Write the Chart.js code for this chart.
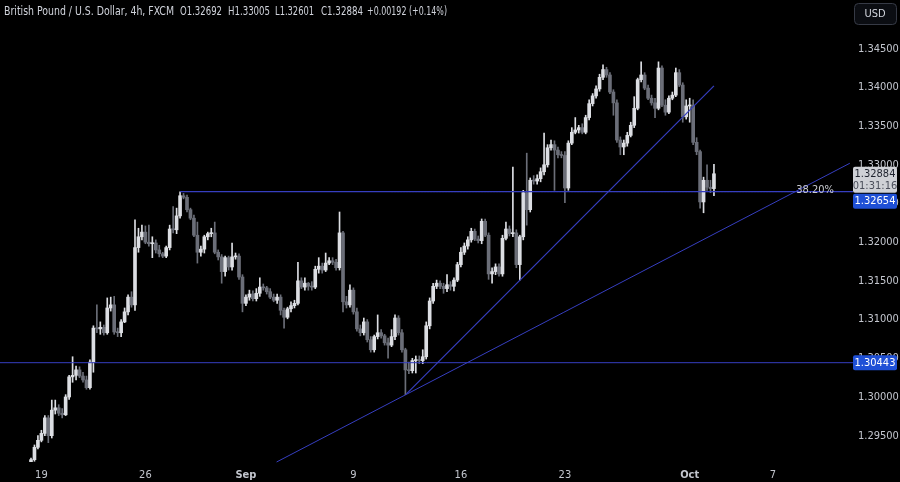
<!DOCTYPE html>
<html>
<head>
<meta charset="utf-8">
<script src="https://cdn.jsdelivr.net/npm/chart.js@4.4.1/dist/chart.umd.min.js"></script>
<style>
  html, body { margin: 0; padding: 0; background: #000; }
  #wrap { width: 900px; height: 482px; position: relative; }
</style>
</head>
<body>
<div id="wrap"><canvas id="gbpusd"></canvas></div>
<script>
// GBP/USD 4h candles, one entry per bar (bar 0 = Fri 16 Aug, last bar = 2 Oct)
const opens = [
  1.2915,1.2919,1.2935,1.2944,1.2953,1.2973,1.2950,1.2983,1.2986,1.2979,
  1.2977,1.3000,1.3026,1.3028,1.3035,1.3027,1.3022,1.3012,1.3045,1.3089,
  1.3088,1.3090,1.3083,1.3115,1.3119,1.3084,1.3083,1.3097,1.3110,1.3129,
  1.3119,1.3193,1.3207,1.3213,1.3200,1.3198,1.3199,1.3190,1.3185,1.3182,
  1.3193,1.3217,1.3216,1.3234,1.3260,1.3258,1.3242,1.3231,1.3209,1.3187,
  1.3191,1.3207,1.3211,1.3212,1.3187,1.3181,1.3162,1.3180,1.3168,1.3181,
  1.3182,1.3155,1.3121,1.3129,1.3133,1.3127,1.3134,1.3142,1.3141,1.3136,
  1.3129,1.3125,1.3129,1.3112,1.3103,1.3114,1.3118,1.3121,1.3150,1.3142,
  1.3147,1.3143,1.3142,1.3165,1.3169,1.3164,1.3173,1.3176,1.3174,1.3167,
  1.3212,1.3123,1.3119,1.3138,1.3110,1.3088,1.3083,1.3097,1.3074,1.3061,
  1.3078,1.3083,1.3079,1.3070,1.3067,1.3078,1.3102,1.3083,1.3061,1.3035,
  1.3034,1.3047,1.3048,1.3047,1.3052,1.3092,1.3124,1.3143,1.3147,1.3143,
  1.3140,1.3145,1.3143,1.3151,1.3171,1.3187,1.3195,1.3203,1.3214,1.3204,
  1.3202,1.3227,1.3209,1.3159,1.3162,1.3168,1.3159,1.3205,1.3217,1.3211,
  1.3212,1.3171,1.3207,1.3264,1.3242,1.3280,1.3279,1.3282,1.3291,1.3300,
  1.3322,1.3326,1.3319,1.3313,1.3312,1.3270,1.3328,1.3342,1.3345,1.3348,
  1.3342,1.3361,1.3379,1.3389,1.3398,1.3413,1.3423,1.3416,1.3394,1.3380,
  1.3332,1.3323,1.3328,1.3338,1.3351,1.3373,1.3410,1.3416,1.3399,1.3386,
  1.3380,1.3373,1.3425,1.3377,1.3368,1.3386,1.3390,1.3419,1.3403,1.3362,
  1.3376,1.3377,1.3329,1.3317,1.3252,1.3280,1.3271,1.32692
];
const highs = [
  1.2921,1.2938,1.2950,1.2957,1.2976,1.2976,1.2996,1.2996,1.2990,1.2985,
  1.3003,1.3028,1.3052,1.3040,1.3039,1.3032,1.3027,1.3048,1.3092,1.3119,
  1.3097,1.3093,1.3128,1.3129,1.3130,1.3089,1.3100,1.3115,1.3132,1.3136,
  1.3229,1.3218,1.3222,1.3221,1.3222,1.3207,1.3203,1.3196,1.3187,1.3195,
  1.3222,1.3246,1.3244,1.3265,1.3263,1.3261,1.3244,1.3235,1.3226,1.3195,
  1.3209,1.3213,1.3218,1.3226,1.3190,1.3184,1.3182,1.3182,1.3199,1.3186,
  1.3185,1.3158,1.3132,1.3138,1.3137,1.3140,1.3154,1.3146,1.3143,1.3140,
  1.3133,1.3133,1.3132,1.3115,1.3116,1.3123,1.3125,1.3174,1.3154,1.3154,
  1.3148,1.3149,1.3169,1.3180,1.3173,1.3186,1.3180,1.3180,1.3178,1.3239,
  1.3214,1.3130,1.3145,1.3141,1.3115,1.3093,1.3102,1.3100,1.3078,1.3080,
  1.3106,1.3087,1.3081,1.3076,1.3087,1.3106,1.3105,1.3087,1.3063,1.3045,
  1.3050,1.3053,1.3053,1.3061,1.3097,1.3128,1.3147,1.3151,1.3150,1.3147,
  1.3158,1.3149,1.3154,1.3174,1.3193,1.3199,1.3207,1.3218,1.3217,1.3208,
  1.3230,1.3230,1.3212,1.3167,1.3172,1.3172,1.3209,1.3226,1.3221,1.3297,
  1.3216,1.3209,1.3267,1.3315,1.3283,1.3286,1.3287,1.3296,1.3341,1.3326,
  1.3332,1.3331,1.3323,1.3317,1.3317,1.3331,1.3348,1.3361,1.3351,1.3353,
  1.3364,1.3384,1.3392,1.3402,1.3417,1.3429,1.3426,1.3419,1.3397,1.3384,
  1.3336,1.3332,1.3342,1.3355,1.3388,1.3412,1.3433,1.3419,1.3403,1.3390,
  1.3386,1.3433,1.3428,1.3384,1.3389,1.3394,1.3425,1.3423,1.3406,1.3384,
  1.3386,1.3384,1.3335,1.3319,1.3284,1.3300,1.3280,1.33005
];
const lows = [
  1.2913,1.2917,1.2933,1.2942,1.2950,1.2941,1.2947,1.2978,1.2976,1.2973,
  1.2976,1.2997,1.3019,1.3022,1.3025,1.3019,1.3010,1.3010,1.3032,1.3083,
  1.3081,1.3080,1.3081,1.3111,1.3081,1.3078,1.3078,1.3096,1.3106,1.3116,
  1.3112,1.3187,1.3203,1.3198,1.3195,1.3180,1.3186,1.3181,1.3180,1.3180,
  1.3190,1.3212,1.3211,1.3231,1.3256,1.3239,1.3229,1.3207,1.3173,1.3182,
  1.3186,1.3203,1.3207,1.3185,1.3177,1.3147,1.3156,1.3164,1.3164,1.3178,
  1.3152,1.3110,1.3118,1.3125,1.3124,1.3124,1.3130,1.3138,1.3133,1.3127,
  1.3123,1.3121,1.3106,1.3089,1.3101,1.3110,1.3115,1.3119,1.3140,1.3138,
  1.3138,1.3138,1.3140,1.3160,1.3160,1.3162,1.3171,1.3171,1.3164,1.3164,
  1.3110,1.3115,1.3116,1.3107,1.3085,1.3079,1.3080,1.3071,1.3058,1.3058,
  1.3075,1.3076,1.3067,1.3050,1.3065,1.3074,1.3080,1.3058,1.3003,1.3030,
  1.3031,1.3031,1.3043,1.3043,1.3049,1.3088,1.3121,1.3140,1.3140,1.3134,
  1.3136,1.3138,1.3137,1.3149,1.3168,1.3184,1.3191,1.3200,1.3202,1.3199,
  1.3198,1.3207,1.3152,1.3147,1.3158,1.3156,1.3156,1.3203,1.3208,1.3207,
  1.3167,1.3151,1.3203,1.3222,1.3239,1.3275,1.3275,1.3278,1.3287,1.3297,
  1.3319,1.3267,1.3309,1.3309,1.3251,1.3267,1.3326,1.3340,1.3341,1.3340,
  1.3340,1.3358,1.3376,1.3386,1.3395,1.3410,1.3413,1.3392,1.3364,1.3329,
  1.3313,1.3313,1.3324,1.3336,1.3348,1.3371,1.3407,1.3397,1.3384,1.3377,
  1.3361,1.3371,1.3375,1.3364,1.3366,1.3384,1.3388,1.3401,1.3355,1.3359,
  1.3355,1.3326,1.3313,1.3244,1.3238,1.3267,1.3264,1.32601
];
const closes = [
  1.2919,1.2935,1.2944,1.2953,1.2973,1.2950,1.2983,1.2986,1.2979,1.2977,
  1.3000,1.3026,1.3028,1.3035,1.3027,1.3022,1.3012,1.3045,1.3089,1.3088,
  1.3090,1.3083,1.3115,1.3119,1.3084,1.3083,1.3097,1.3110,1.3129,1.3119,
  1.3193,1.3207,1.3213,1.3200,1.3198,1.3199,1.3190,1.3185,1.3182,1.3193,
  1.3217,1.3216,1.3234,1.3260,1.3258,1.3242,1.3231,1.3209,1.3187,1.3191,
  1.3207,1.3211,1.3212,1.3187,1.3181,1.3162,1.3180,1.3168,1.3181,1.3182,
  1.3155,1.3121,1.3129,1.3133,1.3127,1.3134,1.3142,1.3141,1.3136,1.3129,
  1.3125,1.3129,1.3112,1.3103,1.3114,1.3118,1.3121,1.3150,1.3142,1.3147,
  1.3143,1.3142,1.3165,1.3169,1.3164,1.3173,1.3176,1.3174,1.3167,1.3212,
  1.3123,1.3119,1.3138,1.3110,1.3088,1.3083,1.3097,1.3074,1.3061,1.3078,
  1.3083,1.3079,1.3070,1.3067,1.3078,1.3102,1.3083,1.3061,1.3035,1.3034,
  1.3047,1.3048,1.3047,1.3052,1.3092,1.3124,1.3143,1.3147,1.3143,1.3140,
  1.3145,1.3143,1.3151,1.3171,1.3187,1.3195,1.3203,1.3214,1.3204,1.3202,
  1.3227,1.3209,1.3159,1.3162,1.3168,1.3159,1.3205,1.3217,1.3211,1.3212,
  1.3171,1.3207,1.3264,1.3242,1.3280,1.3279,1.3282,1.3291,1.3300,1.3322,
  1.3326,1.3319,1.3313,1.3312,1.3270,1.3328,1.3342,1.3345,1.3348,1.3342,
  1.3361,1.3379,1.3389,1.3398,1.3413,1.3423,1.3416,1.3394,1.3380,1.3332,
  1.3323,1.3328,1.3338,1.3351,1.3373,1.3410,1.3416,1.3399,1.3386,1.3380,
  1.3373,1.3425,1.3377,1.3368,1.3386,1.3390,1.3419,1.3403,1.3362,1.3376,
  1.3377,1.3329,1.3317,1.3252,1.3280,1.3271,1.32692,1.32884
];

// time axis: bar index of each date label
const dayTicks  = [3, 33, 62, 93, 124, 154, 190, 214];
const dayLabels = ['19', '26', 'Sep', '9', '16', '23', 'Oct', '7'];
const priceTicks = [1.295, 1.300, 1.305, 1.310, 1.315, 1.320, 1.325, 1.330, 1.335, 1.340, 1.345];

// drawings
const supportLevel = 1.30443;
const fibLevel = 1.32654;
const fibFrom = 43;        // Aug 27 high
const fibDottedFrom = 104;
const steepTrend = [[108.3, 1.3004], [197, 1.3402]];
const longTrend  = [[70.84, 1.2916], [236.2, 1.3302]];
const countdown = '01:31:16';

const X_MIN = -8.94, X_MAX = 234.8, X_EDGE = 237.1;
const Y_MIN = 1.29160, Y_MAX = 1.35129;

const UP = '#dcdee3', DOWN = '#6b6e78', NAVY = '#363ec0';
const FONT = "'Liberation Sans Narrow', 'DejaVu Sans Condensed', 'Liberation Sans', sans-serif";

const isUp = closes.map((c, i) => c >= opens[i]);
const bodies = closes.map((c, i) => ({ x: i, y: [opens[i], c] }));
const wicks = closes.map((c, i) => ({ x: i, y: [lows[i], highs[i]] }));
const candleColors = isUp.map(u => u ? UP : DOWN);

function lineSet(points, color, width, dash, clip) {
  return {
    type: 'line',
    data: points.map(p => ({ x: p[0], y: p[1] })),
    borderColor: color,
    borderWidth: width,
    borderDash: dash || [],
    pointRadius: 0,
    tension: 0,
    clip: clip ? undefined : false,
    order: 0
  };
}

const overlay = {
  id: 'overlay',
  afterDraw(chart) {
    const { ctx, scales: { y } } = chart;
    const n = closes.length - 1;
    ctx.save();

    // header
    const chg = closes[n] - closes[n - 1];
    const pct = chg / closes[n - 1] * 100;
    const header = [
      ['British Pound / U.S. Dollar, 4h, FXCM', 4, 170],
      ['O' + opens[n].toFixed(5), 180, 42],
      ['H' + highs[n].toFixed(5), 228, 42],
      ['L' + lows[n].toFixed(5), 275, 39],
      ['C' + closes[n].toFixed(5), 321, 42],
      [(chg >= 0 ? '+' : '') + chg.toFixed(5) + ' (' + (pct >= 0 ? '+' : '') + pct.toFixed(2) + '%)', 367, 80]
    ];
    ctx.font = '12.5px ' + FONT;
    ctx.fillStyle = '#d1d4dc';
    ctx.textBaseline = 'middle';
    ctx.textAlign = 'left';
    header.forEach(h => ctx.fillText(h[0], h[1], 12, h[2]));

    // fib label
    ctx.font = '11px ' + FONT;
    ctx.fillStyle = '#c9cbd1';
    ctx.textAlign = 'right';
    ctx.fillText('38.20%', 834, y.getPixelForValue(fibLevel) - 1);

    // USD button
    ctx.beginPath();
    ctx.roundRect(854.5, 3.5, 42, 21, 4);
    ctx.fillStyle = '#0b0d12';
    ctx.fill();
    ctx.strokeStyle = '#363a45';
    ctx.stroke();
    ctx.fillStyle = '#d1d4dc';
    ctx.textAlign = 'center';
    ctx.fillText('USD', 875, 14);

    // current price badge
    const pc = y.getPixelForValue(closes[n]);
    const top = pc - 7;
    ctx.fillStyle = '#cfd1d6';
    ctx.beginPath();
    ctx.roundRect(853, top, 44, 26, 2);
    ctx.fill();
    ctx.fillStyle = '#1e222d';
    ctx.font = '11px ' + FONT;
    ctx.fillText(closes[n].toFixed(5), 875, pc);
    ctx.fillStyle = '#4a4e5a';
    ctx.fillText(countdown, 875, pc + 12);

    // blue level badges
    function blueBadge(val, minTop) {
      const py = y.getPixelForValue(val);
      const t = Math.max(py - 7.5, minTop);
      ctx.fillStyle = '#1f50d6';
      ctx.beginPath();
      ctx.roundRect(853, t, 44, 15, 2);
      ctx.fill();
      ctx.fillStyle = '#ffffff';
      ctx.fillText(val.toFixed(5), 875, t + 7.5);
    }
    blueBadge(fibLevel, top + 27);
    blueBadge(supportLevel, 0);
    ctx.restore();
  }
};

new Chart(document.getElementById('gbpusd'), {
  type: 'bar',
  data: {
    datasets: [
      lineSet([[X_MIN, supportLevel], [X_EDGE, supportLevel]], NAVY, 1),
      lineSet([[fibFrom, fibLevel], [X_EDGE, fibLevel]], NAVY, 1.2),
      lineSet([[fibDottedFrom, fibLevel], [X_MAX, fibLevel]], '#7079cc', 1, [1, 2], true),
      lineSet(steepTrend, NAVY, 1.2),
      lineSet(longTrend, NAVY, 1),
      {
        type: 'bar',
        data: bodies,
        backgroundColor: candleColors,
        barThickness: 3,
        minBarLength: 1,
        grouped: false,
        borderWidth: 0,
        order: 2
      },
      {
        type: 'bar',
        data: wicks,
        backgroundColor: candleColors,
        barThickness: 1,
        grouped: false,
        borderWidth: 0,
        order: 3
      }
    ]
  },
  options: {
    responsive: true,
    maintainAspectRatio: false,
    animation: false,
    events: [],
    layout: { padding: 0 },
    plugins: { legend: { display: false }, tooltip: { enabled: false } },
    scales: {
      x: {
        type: 'linear',
        min: X_MIN,
        max: X_MAX,
        offset: false,
        grid: { display: false, drawTicks: false },
        border: { display: false },
        afterBuildTicks: s => { s.ticks = dayTicks.map(v => ({ value: v })); },
        afterFit: s => { s.height = 20; s.paddingLeft = 0; s.paddingRight = 0; },
        ticks: {
          autoSkip: false,
          maxRotation: 0,
          padding: 7,
          color: '#c3c6ce',
          font: ctx => ({ family: FONT, size: 11, weight: /[A-Za-z]/.test(dayLabels[ctx.index] || '') ? 'bold' : 'normal' }),
          callback: v => dayLabels[dayTicks.indexOf(v)]
        }
      },
      y: {
        type: 'linear',
        position: 'right',
        min: Y_MIN,
        max: Y_MAX,
        grid: { display: false, drawTicks: false },
        border: { display: false },
        afterBuildTicks: s => { s.ticks = priceTicks.map(v => ({ value: v })); },
        afterFit: s => { s.width = 55; s.paddingTop = 0; s.paddingBottom = 0; },
        ticks: {
          padding: 13,
          color: '#c3c6ce',
          font: { family: FONT, size: 11 },
          callback: v => v.toFixed(5)
        }
      }
    }
  },
  plugins: [overlay]
});
</script>
</body>
</html>
